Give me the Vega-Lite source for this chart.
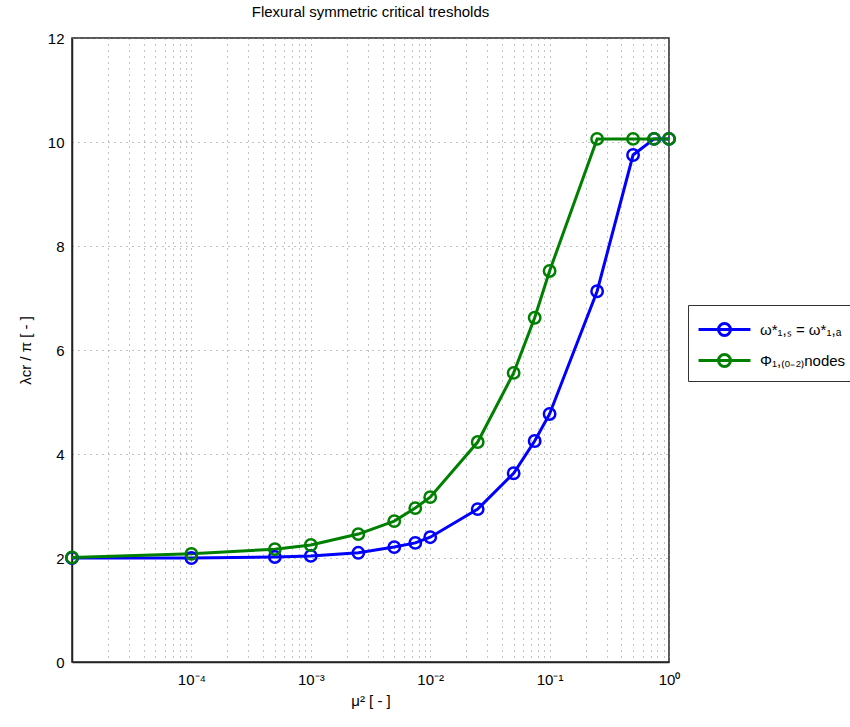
{
  "$schema": "https://vega.github.io/schema/vega-lite/v6.json",
  "width": 597,
  "height": 624,
  "autosize": {"type": "none"},
  "padding": {"left": 72, "top": 38, "right": 181, "bottom": 65},
  "background": "white",
  "title": {"text": "Flexural symmetric critical tresholds", "font": "Liberation Sans", "fontSize": 15, "fontWeight": "normal", "color": "#000", "offset": 11, "anchor": "middle"},
  "config": {
    "view": {"stroke": "#222", "strokeWidth": 1.5},
    "axis": {"labelFont": "Liberation Sans", "titleFont": "Liberation Sans", "labelFontSize": 15, "titleFontSize": 15, "titleFontWeight": "normal", "labelColor": "#000", "titleColor": "#000", "domainColor": "#222", "domainWidth": 1.5, "gridColor": "#888", "gridDash": [1, 5], "gridWidth": 1}
  },
  "data": {"values": [
    {"mu2": 0.00001, "v": 2.0, "s": "ω*₁,ₛ = ω*₁,ₐ"},
    {"mu2": 0.0001, "v": 2.0, "s": "ω*₁,ₛ = ω*₁,ₐ"},
    {"mu2": 0.0005, "v": 2.02, "s": "ω*₁,ₛ = ω*₁,ₐ"},
    {"mu2": 0.001, "v": 2.04, "s": "ω*₁,ₛ = ω*₁,ₐ"},
    {"mu2": 0.0025, "v": 2.1, "s": "ω*₁,ₛ = ω*₁,ₐ"},
    {"mu2": 0.005, "v": 2.21, "s": "ω*₁,ₛ = ω*₁,ₐ"},
    {"mu2": 0.0075, "v": 2.29, "s": "ω*₁,ₛ = ω*₁,ₐ"},
    {"mu2": 0.01, "v": 2.4, "s": "ω*₁,ₛ = ω*₁,ₐ"},
    {"mu2": 0.025, "v": 2.94, "s": "ω*₁,ₛ = ω*₁,ₐ"},
    {"mu2": 0.05, "v": 3.63, "s": "ω*₁,ₛ = ω*₁,ₐ"},
    {"mu2": 0.075, "v": 4.25, "s": "ω*₁,ₛ = ω*₁,ₐ"},
    {"mu2": 0.1, "v": 4.77, "s": "ω*₁,ₛ = ω*₁,ₐ"},
    {"mu2": 0.25, "v": 7.13, "s": "ω*₁,ₛ = ω*₁,ₐ"},
    {"mu2": 0.5, "v": 9.75, "s": "ω*₁,ₛ = ω*₁,ₐ"},
    {"mu2": 0.75, "v": 10.06, "s": "ω*₁,ₛ = ω*₁,ₐ"},
    {"mu2": 1, "v": 10.06, "s": "ω*₁,ₛ = ω*₁,ₐ"},
    {"mu2": 0.00001, "v": 2.01, "s": "Φ₁,₍₀₋₂₎nodes"},
    {"mu2": 0.0001, "v": 2.08, "s": "Φ₁,₍₀₋₂₎nodes"},
    {"mu2": 0.0005, "v": 2.17, "s": "Φ₁,₍₀₋₂₎nodes"},
    {"mu2": 0.001, "v": 2.25, "s": "Φ₁,₍₀₋₂₎nodes"},
    {"mu2": 0.0025, "v": 2.46, "s": "Φ₁,₍₀₋₂₎nodes"},
    {"mu2": 0.005, "v": 2.71, "s": "Φ₁,₍₀₋₂₎nodes"},
    {"mu2": 0.0075, "v": 2.96, "s": "Φ₁,₍₀₋₂₎nodes"},
    {"mu2": 0.01, "v": 3.17, "s": "Φ₁,₍₀₋₂₎nodes"},
    {"mu2": 0.025, "v": 4.23, "s": "Φ₁,₍₀₋₂₎nodes"},
    {"mu2": 0.05, "v": 5.56, "s": "Φ₁,₍₀₋₂₎nodes"},
    {"mu2": 0.075, "v": 6.62, "s": "Φ₁,₍₀₋₂₎nodes"},
    {"mu2": 0.1, "v": 7.52, "s": "Φ₁,₍₀₋₂₎nodes"},
    {"mu2": 0.25, "v": 10.06, "s": "Φ₁,₍₀₋₂₎nodes"},
    {"mu2": 0.5, "v": 10.06, "s": "Φ₁,₍₀₋₂₎nodes"},
    {"mu2": 0.75, "v": 10.06, "s": "Φ₁,₍₀₋₂₎nodes"},
    {"mu2": 1, "v": 10.06, "s": "Φ₁,₍₀₋₂₎nodes"}
  ]},
  "mark": {"type": "line", "strokeWidth": 3, "clip": false, "point": {"filled": false, "size": 130, "strokeWidth": 2.5}},
  "encoding": {
    "x": {"field": "mu2", "type": "quantitative",
      "scale": {"type": "log", "domain": [0.00001, 1], "nice": false},
      "axis": {"title": "μ² [ - ]", "titlePadding": 6, "labelPadding": 10, "ticks": false, "labelFlush": false,
        "values": [0.00001, 0.00002, 0.00003, 0.00004, 0.00005, 0.00006, 0.00007, 0.00008, 0.00009, 0.0001, 0.0002, 0.0003, 0.0004, 0.0005, 0.0006, 0.0007, 0.0008, 0.0009, 0.001, 0.002, 0.003, 0.004, 0.005, 0.006, 0.007, 0.008, 0.009, 0.01, 0.02, 0.03, 0.04, 0.05, 0.06, 0.07, 0.08, 0.09, 0.1, 0.2, 0.3, 0.4, 0.5, 0.6, 0.7, 0.8, 0.9, 1],
        "labelExpr": "datum.value == 0.0001 ? '10⁻⁴' : datum.value == 0.001 ? '10⁻³' : datum.value == 0.01 ? '10⁻²' : datum.value == 0.1 ? '10⁻¹' : datum.value == 1 ? '10⁰' : ''"}},
    "y": {"field": "v", "type": "quantitative",
      "scale": {"domain": [0, 12], "nice": false},
      "axis": {"title": "λcr / π  [ - ]", "values": [0, 2, 4, 6, 8, 10, 12], "ticks": false, "labelPadding": 8, "titlePadding": 14}},
    "color": {"field": "s", "type": "nominal",
      "scale": {"domain": ["ω*₁,ₛ = ω*₁,ₐ", "Φ₁,₍₀₋₂₎nodes"], "range": ["#0000ff", "#008000"]},
      "legend": {"title": null, "orient": "none", "legendX": 616, "legendY": 267,
        "labelFont": "Liberation Sans", "labelFontSize": 15, "labelColor": "#000",
        "symbolType": "M-0.93,0L2.53,0M1.2,0A0.4,0.4,0,1,1,0.4,0A0.4,0.4,0,1,1,1.2,0",
        "symbolSize": 900, "symbolStrokeWidth": 3, "symbolFillColor": "transparent",
        "labelOffset": 31, "padding": 8, "rowPadding": 2,
        "strokeColor": "#333", "fillColor": "white"}}
  }
}
